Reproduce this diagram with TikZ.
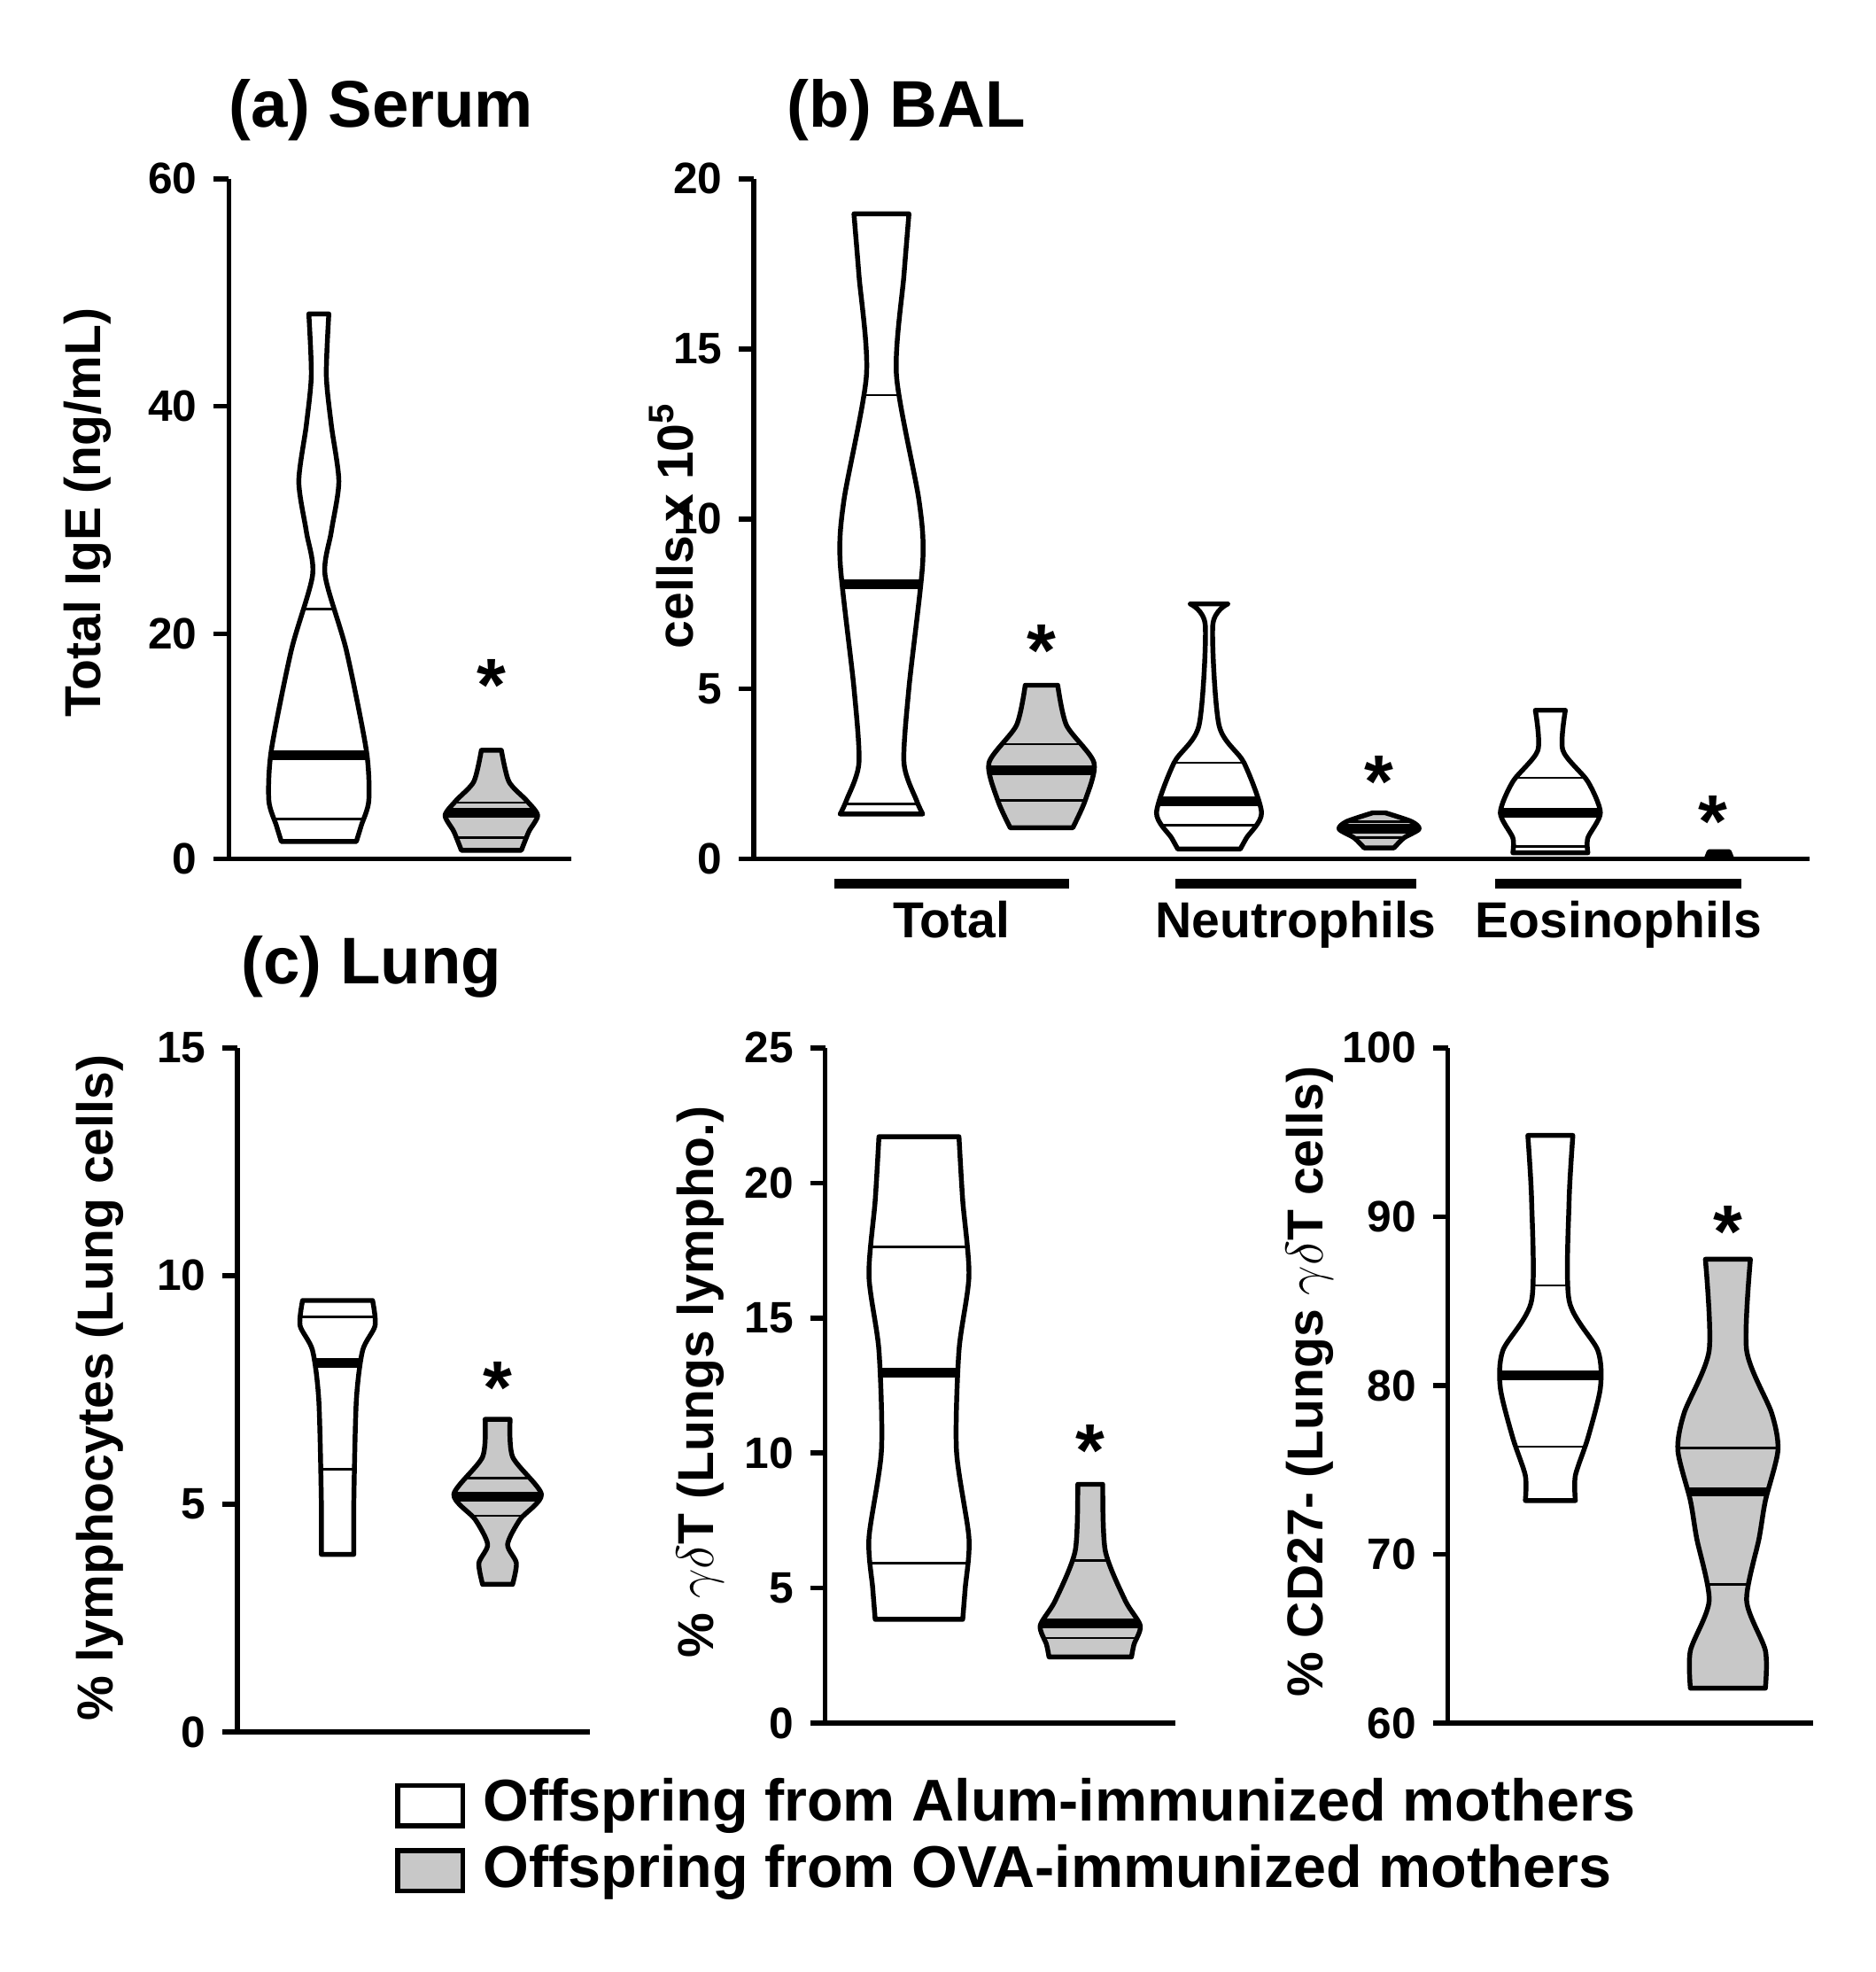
\documentclass[tikz,border=0pt]{standalone}
\usepackage{fontspec}
\setmainfont{Liberation Sans}
\begin{document}
\definecolor{vg}{RGB}{200,200,200}
\newcommand\myvio[5]{%
 \gdef\L{}\gdef\R{}%
 \foreach \y/\w in {#3}{\pgfmathsetmacro\a{#1-\w}\pgfmathsetmacro\b{#1+\w}\xdef\L{\L(\a,\y)}\xdef\R{(\b,\y)\R}}%
 \fill[#2] plot[smooth,tension=0.45] coordinates{\L} -- plot[smooth,tension=0.45] coordinates{\R} -- cycle;
 \begin{scope}\clip plot[smooth,tension=0.45] coordinates{\L} -- plot[smooth,tension=0.45] coordinates{\R} -- cycle;
 \draw[line width=2.2pt] (#1-60,#4)--(#1+60,#4);
 \foreach \q in {#5}{\draw[line width=0.5pt] (#1-60,\q)--(#1+60,\q);}
 \end{scope}
 \draw[line width=1.1pt,line join=round] plot[smooth,tension=0.45] coordinates{\L} -- plot[smooth,tension=0.45] coordinates{\R} -- cycle;}
\begin{tikzpicture}[x=0.01cm,y=-0.01cm,
 ax/.style={line width=1.1pt},
 tl/.style={anchor=east,font=\bfseries\fontsize{10}{12}\selectfont},
 ttl/.style={font=\bfseries\fontsize{15}{18}\selectfont},
 yl/.style={rotate=90,font=\bfseries\fontsize{11.5}{14}\selectfont},
 st/.style={font=\bfseries\fontsize{17}{18}\selectfont}]
\useasboundingbox (0,0) rectangle (1500,1577);
% panel a
\node[ttl] (ta) at (305,88) {(a) Serum};
\draw[ax] (183,143) -- (183,687) -- (457,687);
\foreach \v/\y in {60/143,40/325,20/507,0/687}{\draw[ax] (171,\y)--(183,\y); \node[tl] at (170,\y) {\v};}
\node[yl] (ya) at (70,410) {Total IgE (ng/mL)};
\myvio{255}{white}{251/8,300/6,340/10,385/16,425/10,460/5,520/22,600/38,640/40,660/34,673/30}{604}{655,487}
\myvio{393}{vg}{600/8,625/14,640/28,652/37,665/30,680/24}{650}{642,670}
\node[st] at (393,548) {*};
% panel b
\node[ttl] (tb) at (725,88) {(b) BAL};
\draw[ax] (603,143) -- (603,687) -- (1447,687);
\foreach \v/\y in {20/143,15/279,10/415,5/551,0/687}{\draw[ax] (591,\y)--(603,\y); \node[tl] at (590,\y) {\v};}
\node[yl] (yb) at (537,420) {cells x 10$^{\mathbf 5}$};
\myvio{705}{white}{171/22,220/18,300/12,400/30,450/33,550/22,610/18,640/28,651/33}{467}{316,643}
\myvio{833}{vg}{548/13,580/20,610/42,640/35,662/25}{616}{595,640}
\node[st] at (833,520) {*};
\myvio{967}{white}{483/15,500/3,580/8,610/28,650/42,670/30,679/25}{641}{610,660}
\myvio{1103}{vg}{650/5,657/26,663/32,670/20,678/12}{663}{657,670}
\node[st] at (1103,625) {*};
\myvio{1240}{white}{568/12,600/10,625/30,650/40,670/30,682/30}{650}{622,677}
\myvio{1375}{vg}{681/8,686/10}{684}{}
\node[st] at (1370,657) {*};
\foreach \a/\b/\t in {667/855/Total,940/1133/Neutrophils,1196/1393/Eosinophils}{
 \draw[line width=2.2pt] (\a,707)--(\b,707);
 \node[anchor=base,font=\bfseries\fontsize{11.5}{14}\selectfont] at ({(\a+\b)/2},750) {\t};}
% panel c
\node[ttl] (tc) at (297,773) {(c) Lung};
\draw[ax] (190,838) -- (190,1385) -- (472,1385);
\foreach \v/\y in {15/838,10/1020,5/1203,0/1385}{\draw[ax] (178,\y)--(190,\y); \node[tl] at (177,\y) {\v};}
\node[yl] at (80,1110) {\% lymphocytes (Lung cells)};
\myvio{270}{white}{1040/28,1060/30,1080/20,1120/15,1200/13,1243/13}{1090}{1053,1175}
\myvio{398}{vg}{1135/10,1165/12,1195/35,1215/18,1235/8,1250/15,1267/12}{1197}{1182,1212}
\node[st] at (398,1110) {*};
\draw[ax] (660,838) -- (660,1378) -- (940,1378);
\foreach \v/\y in {25/838,20/946,15/1054,10/1162,5/1270,0/1378}{\draw[ax] (648,\y)--(660,\y); \node[tl] at (647,\y) {\v};}
\node[yl] at (560,1105) {\% $\gamma\delta$T (Lungs lympho.)};
\myvio{735}{white}{909/32,960/35,1020/40,1080/32,1160/30,1230/40,1270/37,1295/35}{1098}{997,1250}
\myvio{872}{vg}{1187/10,1240/12,1280/28,1300/40,1315/35,1325/33}{1298}{1248,1310}
\node[st] at (872,1160) {*};
\draw[ax] (1158,838) -- (1158,1378) -- (1450,1378);
\foreach \v/\y in {100/838,90/973,80/1108,70/1243,60/1378}{\draw[ax] (1146,\y)--(1158,\y); \node[tl] at (1145,\y) {\v};}
\node[yl] at (1048,1105) {\% CD27- (Lungs $\gamma\delta$T cells)};
\myvio{1240}{white}{908/18,960/15,1040/15,1080/38,1110/40,1150/30,1180/20,1200/20}{1100}{1028,1157}
\myvio{1382}{vg}{1007/18,1080/15,1130/35,1160/40,1200/30,1230/25,1280/15,1320/30,1350/30}{1193}{1158,1267}
\node[st] at (1382,985) {*};
% legend
\draw[line width=1.1pt,fill=white] (318,1428) rectangle (370,1460);
\node[anchor=west,font=\bfseries\fontsize{13.4}{16}\selectfont] (l1) at (374,1444) {Offspring from Alum-immunized mothers};
\draw[line width=1.1pt,fill=vg] (318,1480) rectangle (370,1512);
\node[anchor=west,font=\bfseries\fontsize{13.4}{16}\selectfont] (l2) at (374,1497) {Offspring from OVA-immunized mothers};
\end{tikzpicture}
\end{document}
